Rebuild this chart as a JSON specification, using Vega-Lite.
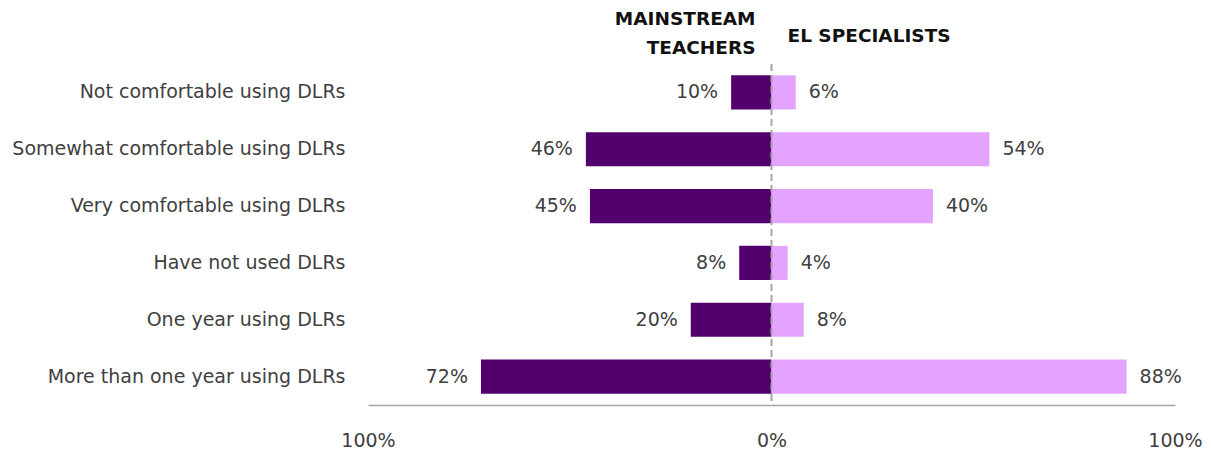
{
  "$schema": "https://vega.github.io/schema/vega-lite/v6.json",
  "autosize": "none",
  "width": 807,
  "height": 341,
  "padding": {"left": 368, "top": 64, "right": 36, "bottom": 45},
  "background": "white",
  "config": {
    "view": {"stroke": null},
    "font": "DejaVu Sans",
    "text": {"font": "DejaVu Sans"}
  },
  "datasets": {
    "bars": [
      {"category": "Not comfortable using DLRs", "group": "Mainstream teachers", "value": 10},
      {"category": "Not comfortable using DLRs", "group": "EL specialists", "value": 6},
      {"category": "Somewhat comfortable using DLRs", "group": "Mainstream teachers", "value": 46},
      {"category": "Somewhat comfortable using DLRs", "group": "EL specialists", "value": 54},
      {"category": "Very comfortable using DLRs", "group": "Mainstream teachers", "value": 45},
      {"category": "Very comfortable using DLRs", "group": "EL specialists", "value": 40},
      {"category": "Have not used DLRs", "group": "Mainstream teachers", "value": 8},
      {"category": "Have not used DLRs", "group": "EL specialists", "value": 4},
      {"category": "One year using DLRs", "group": "Mainstream teachers", "value": 20},
      {"category": "One year using DLRs", "group": "EL specialists", "value": 8},
      {"category": "More than one year using DLRs", "group": "Mainstream teachers", "value": 72},
      {"category": "More than one year using DLRs", "group": "EL specialists", "value": 88}
    ],
    "headers": [
      {"category": "Not comfortable using DLRs", "side": "left", "header": "MAINSTREAM|TEACHERS"},
      {"category": "Not comfortable using DLRs", "side": "right", "header": "EL SPECIALISTS"}
    ],
    "zero": [{"x": 0}]
  },
  "layer": [
    {
      "data": {"name": "bars"},
      "transform": [
        {"calculate": "datum.group === 'Mainstream teachers' ? -datum.value : datum.value", "as": "x"}
      ],
      "mark": {"type": "bar"},
      "encoding": {
        "y": {
          "field": "category", "type": "nominal", "sort": null,
          "scale": {"domain": ["Not comfortable using DLRs", "Somewhat comfortable using DLRs", "Very comfortable using DLRs", "Have not used DLRs", "One year using DLRs", "More than one year using DLRs"], "paddingInner": 0.4, "paddingOuter": 0.2},
          "axis": {"title": null, "domain": false, "ticks": false, "labelPadding": 23, "labelFontSize": 19, "labelColor": "#404040", "labelLimit": 400, "labelFont": "DejaVu Sans"}
        },
        "x": {
          "field": "x", "type": "quantitative",
          "scale": {"domain": [-100, 100], "nice": false},
          "axis": {"title": null, "values": [-100, 0, 100], "labelExpr": "abs(datum.value) + '%'", "grid": false, "ticks": false, "labelFlush": false, "labelPadding": 26, "labelFontSize": 19, "labelColor": "#404040", "labelFont": "DejaVu Sans", "domainColor": "#A6A6A6", "domainWidth": 1.5}
        },
        "color": {
          "field": "group", "type": "nominal",
          "scale": {"domain": ["Mainstream teachers", "EL specialists"], "range": ["#52006E", "#E3A3FF"]},
          "legend": null
        }
      }
    },
    {
      "data": {"name": "bars"},
      "transform": [
        {"filter": "datum.group === 'Mainstream teachers'"},
        {"calculate": "-datum.value", "as": "x"},
        {"calculate": "datum.value + '%'", "as": "label"}
      ],
      "mark": {"type": "text", "align": "right", "baseline": "middle", "dx": -13, "fontSize": 19, "color": "#404040"},
      "encoding": {
        "y": {"field": "category", "type": "nominal", "sort": null},
        "x": {"field": "x", "type": "quantitative"},
        "text": {"field": "label"}
      }
    },
    {
      "data": {"name": "bars"},
      "transform": [
        {"filter": "datum.group === 'EL specialists'"},
        {"calculate": "datum.value", "as": "x"},
        {"calculate": "datum.value + '%'", "as": "label"}
      ],
      "mark": {"type": "text", "align": "left", "baseline": "middle", "dx": 13, "fontSize": 19, "color": "#404040"},
      "encoding": {
        "y": {"field": "category", "type": "nominal", "sort": null},
        "x": {"field": "x", "type": "quantitative"},
        "text": {"field": "label"}
      }
    },
    {
      "data": {"name": "zero"},
      "mark": {"type": "rule", "color": "#A6A6A6", "strokeWidth": 2, "strokeDash": [7, 4]},
      "encoding": {"x": {"field": "x", "type": "quantitative"}}
    },
    {
      "data": {"name": "headers"},
      "transform": [{"filter": "datum.side === 'left'"}],
      "mark": {"type": "text", "align": "right", "baseline": "middle", "dx": -16, "dy": -73, "fontSize": 18.5, "fontWeight": "bold", "lineBreak": "|", "lineHeight": 29, "color": "#111111"},
      "encoding": {
        "y": {"field": "category", "type": "nominal", "sort": null},
        "x": {"datum": 0, "type": "quantitative"},
        "text": {"field": "header"}
      }
    },
    {
      "data": {"name": "headers"},
      "transform": [{"filter": "datum.side === 'right'"}],
      "mark": {"type": "text", "align": "left", "baseline": "middle", "dx": 16, "dy": -56, "fontSize": 18.5, "fontWeight": "bold", "color": "#111111"},
      "encoding": {
        "y": {"field": "category", "type": "nominal", "sort": null},
        "x": {"datum": 0, "type": "quantitative"},
        "text": {"field": "header"}
      }
    }
  ]
}
